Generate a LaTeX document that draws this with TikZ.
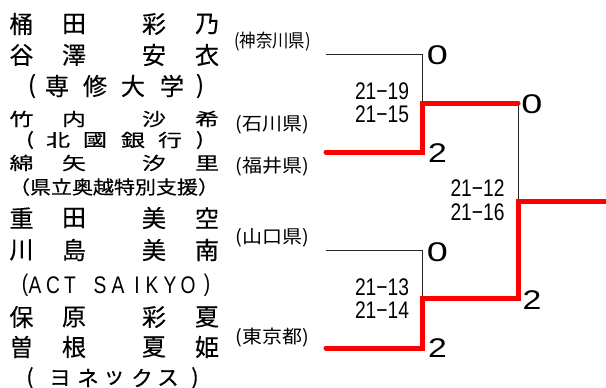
\documentclass[tikz,border=0pt]{standalone}
\usepackage{fontspec}
\setmainfont{Noto Sans CJK JP}
\newfontfamily\namefont{Noto Sans CJK JP}[FakeBold=0.35]
\newfontfamily\latinfont{Liberation Sans}
\newcommand\squat[1]{\scalebox{1.0}[0.74]{#1}}
\newcommand\prefbox[2]{\scalebox{#1}[0.92]{\fontsize{20}{20}\selectfont #2}}
\newcommand\scorebox[1]{\scalebox{0.8}[1]{\latinfont\fontsize{24}{24}\selectfont #1}}
\newcommand\resultbox[2]{\scalebox{#1}[1]{\latinfont\fontsize{27}{27}\selectfont #2}}
\begin{document}
\begin{tikzpicture}[x=1pt,y=-1pt,
  bigch/.style={inner sep=0pt, font=\namefont\fontsize{24}{24}\selectfont},
  smallch/.style={inner sep=0pt, font=\namefont\fontsize{24}{24}\selectfont},
  kanach/.style={inner sep=0pt, font=\namefont\fontsize{21.5}{21.5}\selectfont},
  latch/.style={inner sep=0pt, font=\latinfont\fontsize{24}{24}\selectfont},
  preflabel/.style={inner sep=0pt},
  scorelabel/.style={inner sep=0pt},
  resultlabel/.style={inner sep=0pt},
  bracketline/.style={draw=black!85, line width=0.8pt},
  winnerline/.style={draw=red, line width=5pt, line cap=round, line join=miter}]
\useasboundingbox (0,0) rectangle (606,388);
% ---- names (upper half)
\foreach \x/\c [count=\i] in {21.5/桶,74/田,154/彩,207/乃}
  \node[bigch] (ra\i) at (\x,24) {\c};
\foreach \x/\c [count=\i] in {21.5/谷,74/澤,154/安,207/衣}
  \node[bigch] (rb\i) at (\x,55) {\c};
\foreach \x/\c [count=\i] in {32/{(},57/専,95/修,133/大,172/学,200/{)}}
  \node[bigch] (rc\i) at (\x,86) {\c};
\foreach \x/\c [count=\i] in {21.5/竹,74/内,154/沙,207/希}
  \node[smallch] (rd\i) at (\x,119) {\squat{\c}};
\foreach \x/\c [count=\i] in {30/{(},58/北,95/國,133/銀,170/行,200/{)}}
  \node[smallch] (re\i) at (\x,140) {\squat{\c}};
\foreach \x/\c [count=\i] in {21.5/綿,74/矢,154/汐,207/里}
  \node[smallch] (rf\i) at (\x,163) {\squat{\c}};
\node[inner sep=0pt, font=\namefont\fontsize{21}{21}\selectfont] (rg) at (114,187)
  {\scalebox{1}[0.88]{（県立奥越特別支援）}};
% ---- names (lower half)
\foreach \x/\c [count=\i] in {21.5/重,74/田,154/美,207/空}
  \node[bigch] (rh\i) at (\x,218) {\c};
\foreach \x/\c [count=\i] in {21.5/川,74/島,154/美,207/南}
  \node[bigch] (ri\i) at (\x,250) {\c};
\foreach \x/\c [count=\i] in {25/{(},35/A,53/C,70/T,100/S,118/A,137/I,152/K,170/Y,188/O,207/{)}}
  \node[latch] (rj\i) at (\x,285) {\scalebox{0.8}[1]{\c}};
\foreach \x/\c [count=\i] in {21.5/保,74/原,154/彩,207/夏}
  \node[bigch] (rk\i) at (\x,317) {\c};
\foreach \x/\c [count=\i] in {21.5/曽,74/根,154/夏,207/姫}
  \node[bigch] (rl\i) at (\x,347) {\c};
\foreach \x/\c [count=\i] in {30/{(},60/ヨ,88/ネ,114/ッ,142/ク,168/ス,195/{)}}
  \node[kanach] (rm\i) at (\x,378) {\c};
% ---- prefectures
\node[preflabel] (p1) at (272.5,42) {\prefbox{0.82}{(神奈川県)}};
\node[preflabel] (p2) at (272.5,125) {\prefbox{1.0}{(石川県)}};
\node[preflabel] (p3) at (272.5,167) {\prefbox{1.0}{(福井県)}};
\node[preflabel] (p4) at (272.5,238) {\prefbox{1.0}{(山口県)}};
\node[preflabel] (p5) at (272.5,338) {\prefbox{1.0}{(東京都)}};
% ---- bracket points
\coordinate (a1) at (326,54);  \coordinate (a2) at (422,54);
\coordinate (s1) at (422,103); \coordinate (s1r) at (518,103);
\coordinate (b1) at (326,152); \coordinate (b2) at (422,152);
\coordinate (c1) at (326,250); \coordinate (c2) at (422,250);
\coordinate (s2) at (422,298); \coordinate (s2r) at (518,298);
\coordinate (d1) at (326,348); \coordinate (d2) at (422,348);
\coordinate (f1) at (518,201); \coordinate (f2) at (606,201);
% black (losing) lines
\draw[bracketline] (a1) -- (a2) -- (s1);
\draw[bracketline] (c1) -- (c2) -- (s2);
\draw[bracketline] (s1r) -- (f1);
% red (winning) lines
\draw[winnerline] (b1) -- (b2) -- (s1) -- (s1r);
\draw[winnerline] (d1) -- (d2) -- (s2) -- (s2r) -- (f1) -- (f2);
% ---- game scores
\node[scorelabel] (g1a) at (382,91) {\scorebox{21−19}};
\node[scorelabel] (g1b) at (382,114) {\scorebox{21−15}};
\node[scorelabel] (g2a) at (382,287) {\scorebox{21−13}};
\node[scorelabel] (g2b) at (382,310) {\scorebox{21−14}};
\node[scorelabel] (g3a) at (477.5,188) {\scorebox{21−12}};
\node[scorelabel] (g3b) at (477.5,212) {\scorebox{21−16}};
% ---- match results
\node[resultlabel] (w1) at (437.5,55) {\resultbox{1.4}{0}};
\node[resultlabel] (w2) at (437.5,153) {\resultbox{1.25}{2}};
\node[resultlabel] (w3) at (437.5,252) {\resultbox{1.4}{0}};
\node[resultlabel] (w4) at (437.5,348) {\resultbox{1.25}{2}};
\node[resultlabel] (w5) at (532,104) {\resultbox{1.4}{0}};
\node[resultlabel] (w6) at (532,300) {\resultbox{1.25}{2}};
\end{tikzpicture}
\end{document}
